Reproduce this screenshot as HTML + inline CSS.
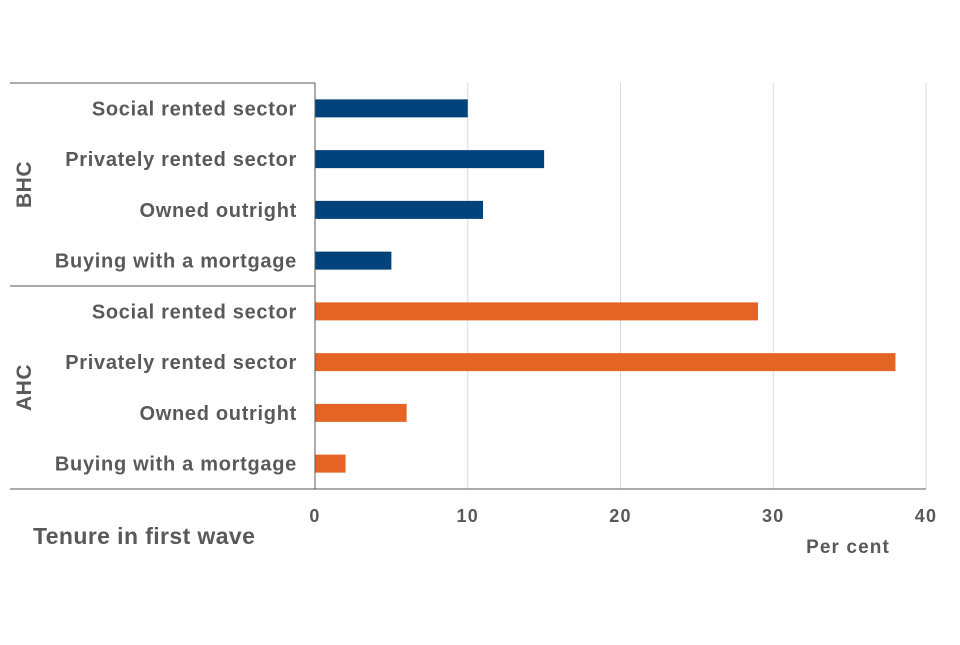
<!DOCTYPE html>
<html><head><meta charset="utf-8"><style>
html,body{margin:0;padding:0;background:#fff;}
body{width:960px;height:640px;overflow:hidden;font-family:"Liberation Sans",Arial,sans-serif;}
text{font-family:"Liberation Sans",Arial,sans-serif;font-weight:bold;fill:#595959;}
</style></head><body>
<svg id="chart" width="960" height="640" xmlns="http://www.w3.org/2000/svg"></svg>
<script>
const categories = ["Social rented sector","Privately rented sector","Owned outright","Buying with a mortgage"];
const groups = ["BHC","AHC"];
const bhcValues = [10,15,11,5];
const ahcValues = [29,38,6,2];
const xTicks = [0,10,20,30,40];
const colors = {BHC:"#00427a", AHC:"#e46424"};

const svg = document.getElementById('chart');
const NS = "http://www.w3.org/2000/svg";
const x0 = 315, x1 = 926, xMax = 40;
const yTop = 83, yBottom = 489;
const rowH = (yBottom - yTop) / 8;
const xs = v => x0 + (x1 - x0) * v / xMax;
function mk(tag, attrs){const e=document.createElementNS(NS,tag);for(const k in attrs)e.setAttribute(k,attrs[k]);svg.appendChild(e);return e;}

xTicks.forEach(t=>{
  if(t>0){
    const g = mk('line',{x1:xs(t),x2:xs(t),y1:yTop,y2:yBottom,stroke:'#d9d9d9','stroke-width':1});
    
    
  }
  const tl = mk('text',{x:xs(t),y:522,'text-anchor':'middle','font-size':18,'letter-spacing':1.2});
  tl.textContent = t;
  
  
});

const allVals = [bhcValues, ahcValues];
groups.forEach((g,gi)=>{
  categories.forEach((c,ci)=>{
    const i = gi*4+ci;
    const cy = yTop + rowH*(i+0.5);
    const v = allVals[gi][ci];
    const r = mk('rect',{x:x0,y:cy-9,width:xs(v)-x0,height:18,fill:colors[g]});
    
    
    const lt = mk('text',{x:297,y:cy+7,'text-anchor':'end','font-size':20,'letter-spacing':0.7});
    lt.textContent = c;
    
    
  });
  const gy = yTop + rowH*(gi*4+2);
  const gl = mk('text',{x:0,y:0,'text-anchor':'middle','font-size':21,'letter-spacing':0.5,transform:`translate(31,${gy}) rotate(-90)`});
  gl.textContent = g;
  
  
});

[[10,yTop,x0,yTop],[10,286,x0,286],[10,yBottom,x1,yBottom],[x0,yTop,x0,yBottom]].forEach((l,i)=>{
  const e = mk('line',{x1:l[0],y1:l[1],x2:l[2],y2:l[3],stroke:'#595959','stroke-width':1});
  
  
});

const yt = mk('text',{x:33,y:544,'font-size':23,'letter-spacing':0.4});
yt.textContent = 'Tenure in first wave';


const xt = mk('text',{x:848,y:553,'text-anchor':'middle','font-size':19,'letter-spacing':1.1});
xt.textContent = 'Per cent';


</script>
</body></html>
